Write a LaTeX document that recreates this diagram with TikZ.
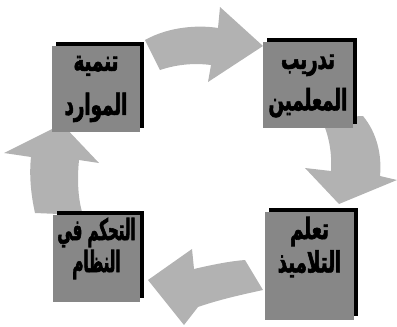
\documentclass[tikz,border=0pt]{standalone}
\usepackage{fontspec}
\newfontfamily\arabicfont[Script=Arabic, FakeStretch=0.62, FakeBold=2]{DejaVu Sans}
\newfontfamily\arabicnarrow[Script=Arabic, FakeStretch=0.51, FakeBold=2]{DejaVu Sans}
\TeXXeTstate=1
\usetikzlibrary{shadows, calc}
\definecolor{boxgray}{HTML}{878787}
\definecolor{arrowgray}{HTML}{B2B2B2}

\begin{document}
\begin{tikzpicture}[x=0.75pt, y=-0.75pt,
    box/.style={rectangle, fill=boxgray, minimum width=66pt, minimum height=64.5pt, inner sep=0pt,
      drop shadow={shadow xshift=3pt, shadow yshift=3pt, fill=black, opacity=1}},
    boxtext/.style={font=\arabicfont\bfseries\fontsize{22}{33}\selectfont, align=center, text=black, inner sep=0pt},
    blockarr/.style={fill=arrowgray, draw=none}
  ]
  \useasboundingbox (0,0) rectangle (397,326);

  % Arrows of the cycle
  \fill[blockarr] (145,40) .. controls (170,26) and (200,25) .. (218,28) -- (220,7) -- (263,46)
    -- (208,82) -- (211,65) .. controls (195,63) and (178,64) .. (160,70) -- cycle;
  \fill[blockarr] (321,118) -- (363,116) .. controls (377,133) and (382,155) .. (380,176)
    -- (397,180) -- (339,204) -- (305,168) -- (331,171) .. controls (332,152) and (329,135) .. (321,118) -- cycle;
  \fill[blockarr] (148,280) -- (192,249) -- (194,269) .. controls (215,264) and (232,261) .. (245,260)
    -- (263,290) .. controls (240,295) and (218,300) .. (198,307) -- (184,325) -- cycle;
  \fill[blockarr] (62,124) -- (99,163) -- (79,160) .. controls (77,180) and (78,200) .. (83,215)
    -- (35,213) .. controls (31,195) and (29,175) .. (31,157) -- (4,153) -- cycle;

  % Boxes
  \node[box] (res) at (96,89) {};
  \node[box, minimum width=67.5pt] (train) at (308,85) {};
  \node[box, minimum width=65pt, minimum height=65pt] (ctrl) at (96.5,258.5) {};
  \node[box, minimum width=67pt, minimum height=81pt] (learn) at (309.5,266) {};

  \node[boxtext] (restxt) at ($(res)+(0,0)$) {\beginR تنمية\endR\\\beginR الموارد\endR};
  \node[boxtext, font=\arabicfont\bfseries\fontsize{22}{31}\selectfont] (traintxt) at ($(train)+(0,1)$) {\beginR تدريب\endR\\\beginR المعلمين\endR};
  \node[boxtext, font=\arabicnarrow\bfseries\fontsize{22}{24}\selectfont] (ctrltxt) at ($(ctrl)+(0,-10)$) {\beginR التحكم في\endR\\\beginR النظام\endR};
  \node[boxtext, font=\arabicfont\bfseries\fontsize{22}{25}\selectfont] (learntxt) at ($(learn)+(0,-19)$) {\beginR تعلم\endR\\\beginR التلاميذ\endR};
\end{tikzpicture}
\end{document}
